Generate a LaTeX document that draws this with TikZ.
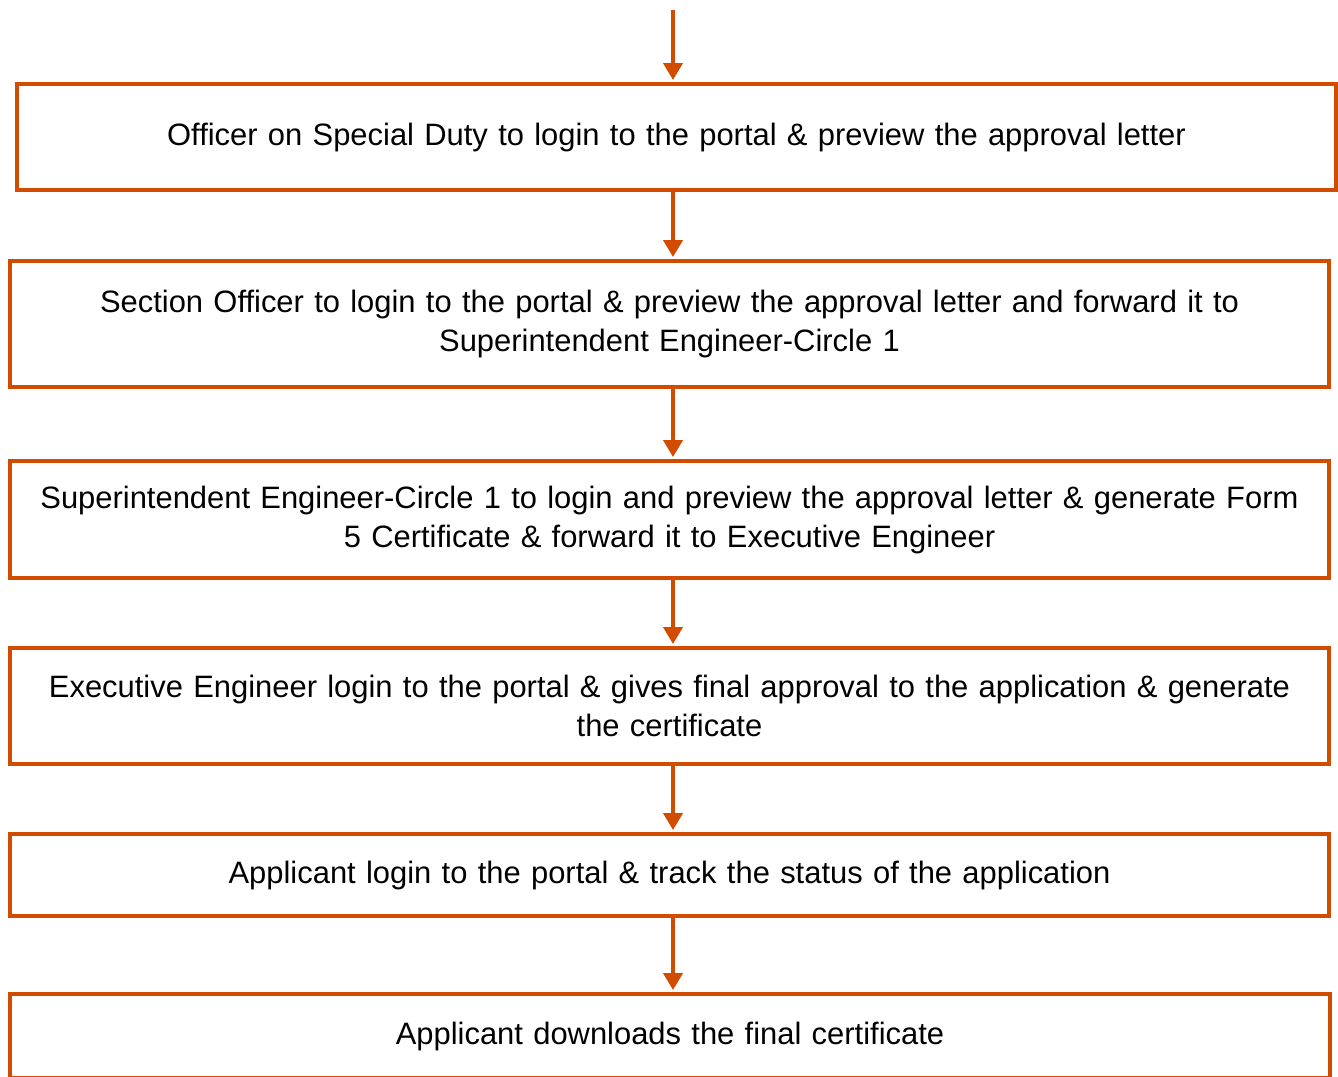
\documentclass[tikz,border=0pt]{standalone}
\usepackage{fontspec}
\setmainfont{Liberation Sans}
\usetikzlibrary{arrows.meta}
\definecolor{flowline}{RGB}{210,76,0}

\begin{document}
\begin{tikzpicture}[x=0.02cm,y=-0.02cm,
    stage/.style={draw=flowline, line width=0.08cm, inner sep=0pt,
      text width=26.4cm, align=center, font=\fontsize{17.6}{22.2}\selectfont},
    flow/.style={draw=flowline, line width=0.08cm, shorten >=0.04cm,
      -{Triangle[width=0.38cm,length=0.34cm]}}]
  \fill[white] (0,0) rectangle (1338,1076);
  \useasboundingbox (0,0) rectangle (1338,1076);

  \coordinate (start) at (673,10);
  \node[stage, minimum height=2.12cm] (osd) at (676.5,137)
    {Officer on Special Duty to login to the portal \& preview the approval letter};
  \node[stage, minimum height=2.52cm] (so) at (669.5,324)
    {Section Officer to login to the portal \& preview the approval letter and forward it to\\
     Superintendent Engineer-Circle 1};
  \node[stage, minimum height=2.34cm] (se) at (669.5,519.5)
    {Superintendent Engineer-Circle 1 to login and preview the approval letter \& generate Form\\
     5 Certificate \& forward it to Executive Engineer};
  \node[stage, minimum height=2.32cm] (ee) at (669.5,706)
    {Executive Engineer login to the portal \& gives final approval to the application \& generate\\
     the certificate};
  \node[stage, minimum height=1.64cm] (track) at (669.5,875)
    {Applicant login to the portal \& track the status of the application};
  \node[stage, minimum height=1.68cm] (dl) at (670,1036)
    {Applicant downloads the final certificate};

  % arrows down the chain
  \draw[flow] (start) -- (osd.north -| start);
  \draw[flow] (osd.south -| start) -- (so.north -| start);
  \draw[flow] (so.south -| start) -- (se.north -| start);
  \draw[flow] (se.south -| start) -- (ee.north -| start);
  \draw[flow] (ee.south -| start) -- (track.north -| start);
  \draw[flow] (track.south -| start) -- (dl.north -| start);
\end{tikzpicture}
\end{document}
